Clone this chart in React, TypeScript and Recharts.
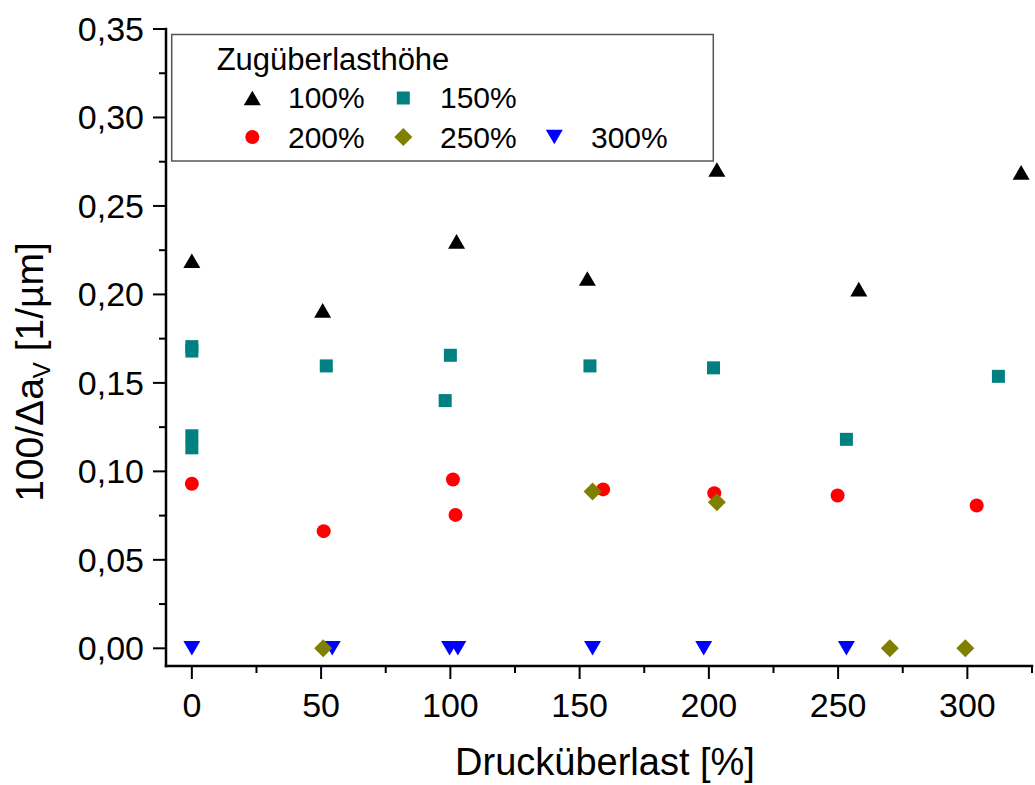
import React from 'react';
import { ScatterChart, Scatter, XAxis, YAxis } from 'recharts';

const FONT = '"Liberation Sans", Arial, Helvetica, sans-serif';

// ---- tick definitions ----
const xMajorTicks = [0, 50, 100, 150, 200, 250, 300];
const xMinorTicks = [25, 75, 125, 175, 225, 275, 325];
const xTickLabels = ['0', '50', '100', '150', '200', '250', '300'];
const yMajorTicks = [0, 0.05, 0.1, 0.15, 0.2, 0.25, 0.3, 0.35];
const yMinorTicks = [0.025, 0.075, 0.125, 0.175, 0.225, 0.275, 0.325];
const yTickLabels = ['0,00', '0,05', '0,10', '0,15', '0,20', '0,25', '0,30', '0,35'];

// ---- series data (x = Drucküberlast [%], y = 100/Δa_V [1/µm]) ----
const s100X = [0, 50.6, 102.4, 153, 203.1, 258, 320.8];
const s100Y = [0.219, 0.191, 0.23, 0.209, 0.2706, 0.203, 0.269];

const s150X = [0, 0, 0, 0, 52, 100, 98, 154, 201.8, 253.2, 312];
const s150Y = [0.1705, 0.168, 0.1201, 0.1133, 0.1596, 0.1656, 0.14, 0.1596, 0.1585, 0.1181, 0.1537];

const s200X = [0, 51, 101, 102, 159.1, 202.1, 249.8, 303.6];
const s200Y = [0.093, 0.0662, 0.0954, 0.0754, 0.0898, 0.0877, 0.0864, 0.0807];

const s250X = [50.8, 155, 203.1, 270, 299.2];
const s250Y = [0, 0.0886, 0.0826, 0, 0];

const s300X = [0, 54.3, 99.7, 102.9, 155, 198, 253.2];
const s300Y = [0, 0, 0, 0, 0, 0, 0];

const legendTitle = 'Zugüberlasthöhe';
const seriesNames = ['100%', '150%', '200%', '250%', '300%'];

const zip = (xs: number[], ys: number[]) => xs.map((x, i) => ({ x, y: ys[i] }));

const X_DOMAIN: [number, number] = [-10, 325];
const Y_DOMAIN: [number, number] = [-0.01, 0.35];
const xAllTicks = [...xMajorTicks, ...xMinorTicks].sort((a, b) => a - b);
const yAllTicks = [...yMajorTicks, ...yMinorTicks].sort((a, b) => a - b);

const majorIndex = (arr: number[], v: number) => arr.findIndex((m) => Math.abs(m - v) < 1e-6);

const MAJOR = 13;
const MINOR = 7;
const TICK_W = 2;

// ---- marker shapes ----
const TriUp = ({ cx, cy, color = '#000000' }: any) => (
  <polygon points={`${cx},${cy - 7.3} ${cx - 8.5},${cy + 7.3} ${cx + 8.5},${cy + 7.3}`} fill={color} />
);
const TriDown = ({ cx, cy, color = '#0000FF' }: any) => (
  <polygon points={`${cx - 8.5},${cy - 7.3} ${cx + 8.5},${cy - 7.3} ${cx},${cy + 7.3}`} fill={color} />
);
const Square = ({ cx, cy, color = '#008080' }: any) => (
  <rect x={cx - 6.5} y={cy - 6.5} width={13} height={13} fill={color} />
);
const Circle = ({ cx, cy, color = '#FF0000' }: any) => <circle cx={cx} cy={cy} r={7} fill={color} />;
const Diamond = ({ cx, cy, color = '#808000' }: any) => (
  <polygon points={`${cx},${cy - 9} ${cx + 9},${cy} ${cx},${cy + 9} ${cx - 9},${cy}`} fill={color} />
);

// ---- tick renderers ----
const BottomTick = (p: any) => {
  const { x, y, payload } = p;
  const i = majorIndex(xMajorTicks, payload.value);
  const len = i >= 0 ? MAJOR : MINOR;
  return (
    <g>
      <line x1={x} x2={x} y1={y} y2={y + len} stroke="#000" strokeWidth={TICK_W} />
      {i >= 0 && (
        <text x={x} y={y + 51} textAnchor="middle" fontSize={34} fontFamily={FONT} fill="#000">
          {xTickLabels[i]}
        </text>
      )}
    </g>
  );
};
const TopTick = (p: any) => {
  const { x, y, payload } = p;
  const i = majorIndex(xMajorTicks, payload.value);
  const len = i >= 0 ? 14 : MINOR;
  return <line x1={x} x2={x} y1={y} y2={y - len} stroke="#000" strokeWidth={TICK_W} />;
};
const LeftTick = (p: any) => {
  const { x, y, payload } = p;
  const i = majorIndex(yMajorTicks, payload.value);
  const len = i >= 0 ? MAJOR : MINOR;
  return (
    <g>
      <line x1={x} x2={x - len} y1={y} y2={y} stroke="#000" strokeWidth={TICK_W} />
      {i >= 0 && (
        <text x={x - 22} y={y + 12} textAnchor="end" fontSize={34} fontFamily={FONT} fill="#000">
          {yTickLabels[i]}
        </text>
      )}
    </g>
  );
};
const RightTick = (p: any) => {
  const { x, y, payload } = p;
  const i = majorIndex(yMajorTicks, payload.value);
  const len = i >= 0 ? MAJOR : MINOR;
  return <line x1={x} x2={x + len} y1={y} y2={y} stroke="#000" strokeWidth={TICK_W} />;
};

const axisLine = { stroke: '#000', strokeWidth: 2.5, strokeLinecap: 'square' as const };

export default function App() {
  return (
    <div style={{ position: 'absolute', left: 0, top: 0, width: 1035, height: 785, background: '#fff' }}>
      <ScatterChart width={1035} height={785} margin={{ top: 29, right: 3, bottom: 0, left: 0 }}>
        <XAxis
          xAxisId="b"
          dataKey="x"
          type="number"
          orientation="bottom"
          domain={X_DOMAIN}
          ticks={xAllTicks}
          interval={0}
          height={119}
          allowDataOverflow
          axisLine={axisLine}
          tickLine={false}
          tickSize={0}
          tickMargin={0}
          tick={(p: any) => <BottomTick {...p} />}
        />
        <XAxis
          xAxisId="t"
          type="number"
          orientation="top"
          domain={X_DOMAIN}
          ticks={xAllTicks}
          interval={0}
          height={0}
          allowDataOverflow
          axisLine={axisLine}
          tickLine={false}
          tickSize={0}
          tickMargin={0}
          tick={(p: any) => <TopTick {...p} />}
        />
        <YAxis
          yAxisId="l"
          dataKey="y"
          type="number"
          orientation="left"
          domain={Y_DOMAIN}
          ticks={yAllTicks}
          interval={0}
          width={166}
          allowDataOverflow
          axisLine={axisLine}
          tickLine={false}
          tickSize={0}
          tickMargin={0}
          tick={(p: any) => <LeftTick {...p} />}
        />
        <YAxis
          yAxisId="r"
          type="number"
          orientation="right"
          domain={Y_DOMAIN}
          ticks={yAllTicks}
          interval={0}
          width={0}
          allowDataOverflow
          axisLine={axisLine}
          tickLine={false}
          tickSize={0}
          tickMargin={0}
          tick={(p: any) => <RightTick {...p} />}
        />
        <Scatter xAxisId="b" yAxisId="l" name={seriesNames[0]} data={zip(s100X, s100Y)} isAnimationActive={false}
          shape={(p: any) => <TriUp cx={p.cx} cy={p.cy} />} />
        <Scatter xAxisId="b" yAxisId="l" name={seriesNames[1]} data={zip(s150X, s150Y)} isAnimationActive={false}
          shape={(p: any) => <Square cx={p.cx} cy={p.cy} />} />
        <Scatter xAxisId="b" yAxisId="l" name={seriesNames[2]} data={zip(s200X, s200Y)} isAnimationActive={false}
          shape={(p: any) => <Circle cx={p.cx} cy={p.cy} />} />
        <Scatter xAxisId="b" yAxisId="l" name={seriesNames[4]} data={zip(s300X, s300Y)} isAnimationActive={false}
          shape={(p: any) => <TriDown cx={p.cx} cy={p.cy} />} />
        <Scatter xAxisId="b" yAxisId="l" name={seriesNames[3]} data={zip(s250X, s250Y)} isAnimationActive={false}
          shape={(p: any) => <Diamond cx={p.cx} cy={p.cy} />} />
      </ScatterChart>

      <svg
        width={1035}
        height={785}
        style={{ position: 'absolute', left: 0, top: 0, pointerEvents: 'none' }}
        fontFamily={FONT}
      >
        {/* legend */}
        <rect x={171.7} y={34.5} width={541.6} height={126.5} fill="#fff" stroke="#555" strokeWidth={1.5} />
        <text x={216.7} y={70} fontSize={31} fill="#000">{legendTitle}</text>
        <TriUp cx={252.3} cy={98} />
        <text x={288} y={107.7} fontSize={30} fill="#000">{seriesNames[0]}</text>
        <Square cx={403.3} cy={98} />
        <text x={440} y={107.7} fontSize={30} fill="#000">{seriesNames[1]}</text>
        <Circle cx={252.3} cy={137} />
        <text x={288} y={148} fontSize={30} fill="#000">{seriesNames[2]}</text>
        <Diamond cx={403.3} cy={137} />
        <text x={440} y={148} fontSize={30} fill="#000">{seriesNames[3]}</text>
        <TriDown cx={554.3} cy={137} />
        <text x={591} y={148} fontSize={30} fill="#000">{seriesNames[4]}</text>

        {/* axis titles */}
        <text x={605} y={775} textAnchor="middle" fontSize={38} fill="#000">Drucküberlast [%]</text>
        <g transform="translate(43,372) rotate(-90)">
          <text x={0} y={0} textAnchor="middle" fontSize={39} fill="#000">
            100/Δa<tspan fontSize={24} dy={7}>V</tspan>
            <tspan dy={-7}> [1/µm]</tspan>
          </text>
        </g>
      </svg>
    </div>
  );
}
